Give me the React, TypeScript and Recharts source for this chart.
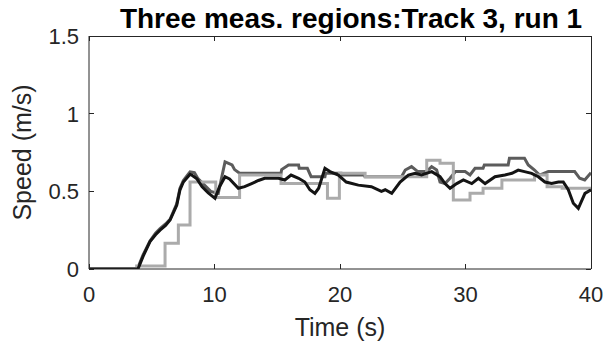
import React from 'react';
import { LineChart, Line, XAxis, YAxis } from 'recharts';

// Region 1 (black): time in seconds, speed in m/s
const blackTime = [
  0, 3.9, 4.3, 4.86, 5.3, 5.66, 6.1, 6.46, 6.99, 7.25, 7.52, 8.05, 8.18, 8.6, 9.0, 9.5,
  10.04, 10.4, 10.84, 11.2, 11.9, 12.4, 12.96, 13.5, 14.0, 15.1, 15.6, 16.1, 16.7, 17.2,
  17.6, 18.0, 18.3, 18.8, 19.2, 19.87, 20.5, 21.46, 22.5, 23.3, 23.6, 24.12, 24.79, 25.45,
  25.98, 26.5, 27.31, 27.97, 28.37, 28.77, 29.3, 29.83, 30.5, 31.03, 31.56, 32.35, 33.14,
  33.7, 34.2, 34.7, 35.27, 35.8, 36.33, 36.86, 37.4, 37.79, 38.19, 38.59, 38.99, 39.52, 40,
];
const blackSpeed = [
  0, 0, 0.08, 0.176, 0.22, 0.25, 0.28, 0.315, 0.41, 0.51, 0.56, 0.61, 0.605, 0.58, 0.53, 0.49,
  0.455, 0.53, 0.594, 0.58, 0.52, 0.53, 0.55, 0.57, 0.584, 0.584, 0.573, 0.605, 0.584, 0.56,
  0.51, 0.487, 0.52, 0.648, 0.627, 0.605, 0.56, 0.54, 0.53, 0.5, 0.51, 0.487, 0.56, 0.605,
  0.616, 0.605, 0.627, 0.594, 0.55, 0.52, 0.55, 0.573, 0.55, 0.584, 0.55, 0.594, 0.605,
  0.616, 0.637, 0.627, 0.616, 0.594, 0.56, 0.55, 0.56, 0.56, 0.51, 0.423, 0.39, 0.487, 0.51,
];

// Region 2 (dark grey)
const darkTime = [
  0, 3.85, 4.3, 4.86, 5.3, 5.66, 6.1, 6.46, 6.99, 7.25, 7.52, 7.8, 8.05, 8.4, 8.7, 9.2, 9.7,
  10.3, 10.6, 10.84, 11.4, 11.6, 12.0, 15.3, 15.35, 15.9, 16.7, 16.75, 17.4, 17.7, 18.8,
  18.85, 20.1, 20.15, 21.9, 22.0, 24.9, 25.2, 25.7, 26.2, 26.9, 27.3, 27.7, 27.97, 28.37,
  28.77, 29.2, 29.97, 30.36, 30.76, 31.4, 31.5, 33.4, 33.5, 34.7, 35.0, 35.5, 35.9, 36.6,
  38.7, 39.1, 39.5, 40,
];
const darkSpeed = [
  0, 0, 0.09, 0.18, 0.23, 0.26, 0.29, 0.32, 0.42, 0.52, 0.57, 0.6, 0.625, 0.62, 0.58, 0.54, 0.5,
  0.487, 0.6, 0.69, 0.67, 0.64, 0.616, 0.616, 0.64, 0.67, 0.67, 0.648, 0.648, 0.594, 0.594,
  0.616, 0.616, 0.605, 0.605, 0.594, 0.594, 0.637, 0.659, 0.627, 0.627, 0.659, 0.637, 0.56, 0.55,
  0.584, 0.627, 0.627, 0.605, 0.648, 0.648, 0.67, 0.67, 0.713, 0.713, 0.67, 0.637, 0.605, 0.627,
  0.627, 0.584, 0.573, 0.62,
];

// Region 3 (light grey), held constant between updates
const lightTime = [
  0, 3.8, 6.06, 7.12, 8.05, 10.1, 12.0, 15.3, 19.0, 19.95, 22.0, 26.91, 27.97, 29.03, 30.36,
  31.4, 32.9, 35.5, 36.5, 37.7, 40,
];
const lightSpeed = [
  0, 0.02, 0.165, 0.283, 0.56, 0.46, 0.605, 0.55, 0.455, 0.616, 0.594, 0.7, 0.68, 0.444, 0.487,
  0.52, 0.573, 0.605, 0.53, 0.52, 0.52,
];

const timeTicks = [0, 10, 20, 30, 40];
const speedTicks = [0, 0.5, 1, 1.5];
const timeDomain: [number, number] = [0, 40];
const speedDomain: [number, number] = [0, 1.5];

const titleText = 'Three meas. regions:Track 3, run 1';
const xLabelText = 'Time (s)';
const yLabelText = 'Speed (m/s)';

const toPoints = (t: number[], v: number[]) => t.map((time, i) => ({ t: time, v: v[i] }));
const blackData = toPoints(blackTime, blackSpeed);
const darkData = toPoints(darkTime, darkSpeed);
const lightData = toPoints(lightTime, lightSpeed);

// Figure layout: the plot box and the space left around it for axes.
const W = 604;
const H = 352;
const BOX = { left: 89, top: 36, width: 502, height: 233 };
const BOX_RIGHT_GAP = W - BOX.left - BOX.width;
const X_AXIS_HEIGHT = H - BOX.top - BOX.height;

const INK = '#262626';
const FONT = 'Arial, "Liberation Sans", Helvetica, sans-serif';
const TICK_LEN = 5;
const TICK_FONT = 22;
const LABEL_FONT = 25;

// Tick labels; with tickSize/tickMargin at 0 the anchor sits on the axis line.
const BottomTickLabel = (props: any) => {
  const { x, y, payload } = props;
  return (
    <text x={x} y={y + 33} textAnchor="middle" fontSize={TICK_FONT} fill={INK} fontFamily={FONT}>
      {payload.value}
    </text>
  );
};

const LeftTickLabel = (props: any) => {
  const { x, y, payload } = props;
  return (
    <text x={x - 10} y={y + 8} textAnchor="end" fontSize={TICK_FONT} fill={INK} fontFamily={FONT}>
      {payload.value}
    </text>
  );
};

const XTitle = (props: any) => {
  const { viewBox } = props;
  const cx = viewBox.x + viewBox.width / 2;
  return (
    <text x={cx} y={viewBox.y + 67} textAnchor="middle" fontSize={LABEL_FONT} fill={INK} fontFamily={FONT}>
      {xLabelText}
    </text>
  );
};

const YTitle = (props: any) => {
  const { viewBox } = props;
  const cy = viewBox.y + viewBox.height / 2;
  const bx = 31;
  return (
    <text
      x={bx}
      y={cy}
      transform={`rotate(-90, ${bx}, ${cy})`}
      textAnchor="middle"
      fontSize={LABEL_FONT}
      fill={INK}
      fontFamily={FONT}
    >
      {yLabelText}
    </text>
  );
};

const timeToX = (t: number) =>
  BOX.left + ((t - timeDomain[0]) / (timeDomain[1] - timeDomain[0])) * BOX.width;
const speedToY = (v: number) =>
  BOX.top + BOX.height - ((v - speedDomain[0]) / (speedDomain[1] - speedDomain[0])) * BOX.height;

// Closed axes frame (top and right edges) plus inward tick marks, as plain HTML over the chart.
const frameStyle = (l: number, t: number, w: number, h: number): React.CSSProperties => ({
  position: 'absolute',
  left: l,
  top: t,
  width: w,
  height: h,
  background: INK,
  zIndex: 5,
  pointerEvents: 'none',
});

const AxesFrame = () => (
  <>
    <div style={frameStyle(BOX.left, BOX.top - 0.5, BOX.width + 0.5, 1)} />
    <div style={frameStyle(BOX.left + BOX.width - 0.5, BOX.top, 1, BOX.height)} />
    {timeTicks.map((t) => (
      <React.Fragment key={`xt${t}`}>
        <div style={frameStyle(timeToX(t) - 0.5, BOX.top, 1, TICK_LEN)} />
        <div style={frameStyle(timeToX(t) - 0.5, BOX.top + BOX.height - TICK_LEN, 1, TICK_LEN)} />
      </React.Fragment>
    ))}
    {speedTicks.map((v) => (
      <React.Fragment key={`yt${v}`}>
        <div style={frameStyle(BOX.left, speedToY(v) - 0.5, TICK_LEN, 1)} />
        <div style={frameStyle(BOX.left + BOX.width - TICK_LEN, speedToY(v) - 0.5, TICK_LEN, 1)} />
      </React.Fragment>
    ))}
  </>
);

export default function App() {
  return (
    <div style={{ position: 'absolute', left: 0, top: 0, width: W, height: H, background: '#fff' }}>
      <svg width={W} height={40} style={{ position: 'absolute', left: 0, top: 0 }}>
        <text x={351} y={28} textAnchor="middle" fontSize={28} fontWeight="bold" fill="#000" fontFamily={FONT}>
          {titleText}
        </text>
      </svg>
      <LineChart width={W} height={H} margin={{ top: BOX.top, right: BOX_RIGHT_GAP, bottom: 0, left: 0 }}>
        <XAxis
          dataKey="t"
          type="number"
          domain={timeDomain}
          ticks={timeTicks}
          interval={0}
          height={X_AXIS_HEIGHT}
          tickSize={0}
          tickMargin={0}
          tick={BottomTickLabel}
          axisLine={{ stroke: INK, strokeWidth: 1 }}
          allowDataOverflow
          label={<XTitle />}
        />
        <YAxis
          type="number"
          domain={speedDomain}
          ticks={speedTicks}
          interval={0}
          width={BOX.left}
          tickSize={0}
          tickMargin={0}
          tick={LeftTickLabel}
          axisLine={{ stroke: INK, strokeWidth: 1 }}
          allowDataOverflow
          label={<YTitle />}
        />
        <Line
          data={darkData}
          dataKey="v"
          type="linear"
          stroke="#5c5c5c"
          strokeWidth={3}
          dot={false}
          isAnimationActive={false}
        />
        <Line
          data={lightData}
          dataKey="v"
          type="stepAfter"
          stroke="#ababab"
          strokeWidth={3}
          dot={false}
          isAnimationActive={false}
        />
        <Line
          data={blackData}
          dataKey="v"
          type="linear"
          stroke="#141414"
          strokeWidth={3}
          dot={false}
          isAnimationActive={false}
        />
      </LineChart>
      <AxesFrame />
    </div>
  );
}
